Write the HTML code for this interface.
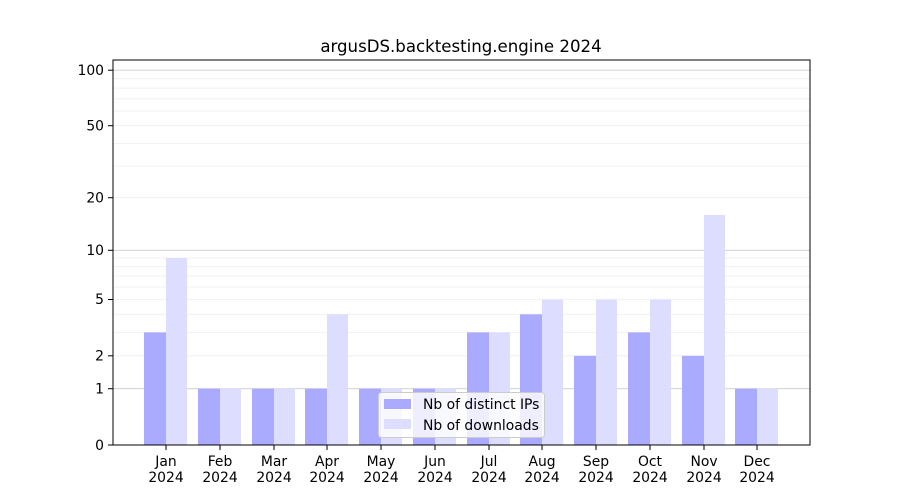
<!DOCTYPE html>
<html><head><meta charset="utf-8"><style>body{margin:0;background:#fff}svg{display:block}text{font-family:"DejaVu Sans","Liberation Sans",sans-serif;fill:#000}</style></head>
<body>
<svg width="900" height="500" xmlns="http://www.w3.org/2000/svg">
<rect width="900" height="500" fill="#fff"/>
<g stroke="#eeeeee" stroke-width="0.8">
<line x1="113" x2="810" y1="355.8" y2="355.8"/><line x1="113" x2="810" y1="332.4" y2="332.4"/>
<line x1="113" x2="810" y1="314.3" y2="314.3"/><line x1="113" x2="810" y1="299.5" y2="299.5"/>
<line x1="113" x2="810" y1="287" y2="287"/><line x1="113" x2="810" y1="276.1" y2="276.1"/>
<line x1="113" x2="810" y1="266.6" y2="266.6"/><line x1="113" x2="810" y1="258" y2="258"/>
<line x1="113" x2="810" y1="197.7" y2="197.7"/><line x1="113" x2="810" y1="166.1" y2="166.1"/>
<line x1="113" x2="810" y1="143.4" y2="143.4"/><line x1="113" x2="810" y1="125.7" y2="125.7"/>
<line x1="113" x2="810" y1="111.1" y2="111.1"/><line x1="113" x2="810" y1="98.8" y2="98.8"/>
<line x1="113" x2="810" y1="88.1" y2="88.1"/><line x1="113" x2="810" y1="78.7" y2="78.7"/>
</g>
<g stroke="#cccccc" stroke-width="0.8">
<line x1="113" x2="810" y1="388.7" y2="388.7"/><line x1="113" x2="810" y1="250.3" y2="250.3"/><line x1="113" x2="810" y1="70.2" y2="70.2"/>
</g>
<g fill="#aaaaff">
<rect x="144" y="332.4" width="22" height="112.6"/>
<rect x="198" y="388.7" width="22" height="56.3"/>
<rect x="252" y="388.7" width="22" height="56.3"/>
<rect x="305" y="388.7" width="22" height="56.3"/>
<rect x="359" y="388.7" width="22" height="56.3"/>
<rect x="413" y="388.7" width="22" height="56.3"/>
<rect x="467" y="332.4" width="22" height="112.6"/>
<rect x="520" y="314.3" width="22" height="130.7"/>
<rect x="574" y="355.8" width="22" height="89.2"/>
<rect x="628" y="332.4" width="22" height="112.6"/>
<rect x="682" y="355.8" width="22" height="89.2"/>
<rect x="735" y="388.7" width="22" height="56.3"/>
</g>
<g fill="#ddddff">
<rect x="166" y="258" width="21" height="187"/>
<rect x="220" y="388.7" width="21" height="56.3"/>
<rect x="274" y="388.7" width="21" height="56.3"/>
<rect x="327" y="314.3" width="21" height="130.7"/>
<rect x="381" y="388.7" width="21" height="56.3"/>
<rect x="435" y="388.7" width="21" height="56.3"/>
<rect x="489" y="332.4" width="21" height="112.6"/>
<rect x="542" y="299.5" width="21" height="145.5"/>
<rect x="596" y="299.5" width="21" height="145.5"/>
<rect x="650" y="299.5" width="21" height="145.5"/>
<rect x="704" y="215" width="21" height="230"/>
<rect x="757" y="388.7" width="21" height="56.3"/>
</g>
<rect x="113" y="60" width="697" height="385" fill="none" stroke="#000" stroke-width="1"/>
<g stroke="#000">
<line x1="108" x2="113" y1="445" y2="445"/><line x1="108" x2="113" y1="388.7" y2="388.7"/>
<line x1="108" x2="113" y1="355.8" y2="355.8"/><line x1="108" x2="113" y1="299.5" y2="299.5"/>
<line x1="108" x2="113" y1="250.3" y2="250.3"/><line x1="108" x2="113" y1="197.7" y2="197.7"/>
<line x1="108" x2="113" y1="125.7" y2="125.7"/><line x1="108" x2="113" y1="70.2" y2="70.2"/>
</g>
<g font-size="13.9" text-anchor="end">
<text x="104" y="450">0</text><text x="104" y="393.5">1</text><text x="104" y="360.5">2</text>
<text x="104" y="304">5</text><text x="104" y="255">10</text><text x="104" y="202.5">20</text>
<text x="104" y="130.5">50</text><text x="104" y="75">100</text>
</g>
<g stroke="#000">
<line x1="166" x2="166" y1="445" y2="450"/><line x1="220" x2="220" y1="445" y2="450"/>
<line x1="274" x2="274" y1="445" y2="450"/><line x1="327" x2="327" y1="445" y2="450"/>
<line x1="381" x2="381" y1="445" y2="450"/><line x1="435" x2="435" y1="445" y2="450"/>
<line x1="489" x2="489" y1="445" y2="450"/><line x1="542" x2="542" y1="445" y2="450"/>
<line x1="596" x2="596" y1="445" y2="450"/><line x1="650" x2="650" y1="445" y2="450"/>
<line x1="704" x2="704" y1="445" y2="450"/><line x1="757" x2="757" y1="445" y2="450"/>
</g>
<g font-size="13.9" text-anchor="middle">
<text x="166" y="466">Jan</text><text x="166" y="482">2024</text>
<text x="220" y="466">Feb</text><text x="220" y="482">2024</text>
<text x="274" y="466">Mar</text><text x="274" y="482">2024</text>
<text x="327" y="466">Apr</text><text x="327" y="482">2024</text>
<text x="381" y="466">May</text><text x="381" y="482">2024</text>
<text x="435" y="466">Jun</text><text x="435" y="482">2024</text>
<text x="489" y="466">Jul</text><text x="489" y="482">2024</text>
<text x="542" y="466">Aug</text><text x="542" y="482">2024</text>
<text x="596" y="466">Sep</text><text x="596" y="482">2024</text>
<text x="650" y="466">Oct</text><text x="650" y="482">2024</text>
<text x="704" y="466">Nov</text><text x="704" y="482">2024</text>
<text x="757" y="466">Dec</text><text x="757" y="482">2024</text>
</g>
<text x="461" y="52" font-size="16.6" text-anchor="middle">argusDS.backtesting.engine 2024</text>
<rect x="378.5" y="392.5" width="166" height="45" rx="3" fill="#fff" fill-opacity="0.8" stroke="#cccccc"/>
<rect x="384" y="399" width="27" height="10" fill="#aaaaff"/>
<rect x="384" y="419" width="27" height="10" fill="#ddddff"/>
<g font-size="13.9"><text x="423" y="409">Nb of distinct IPs</text><text x="423" y="430">Nb of downloads</text></g>
</svg>
</body></html>
